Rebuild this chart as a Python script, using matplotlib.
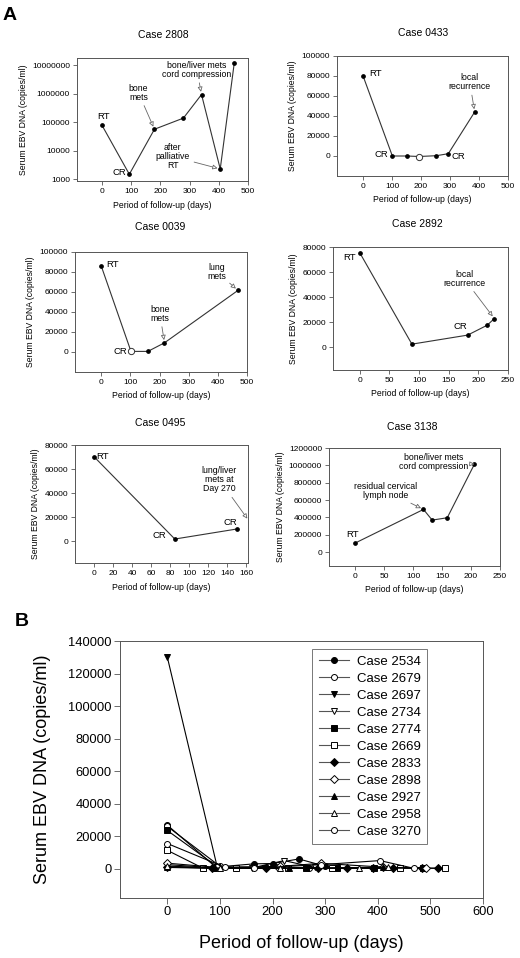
import numpy as np
import matplotlib
matplotlib.use('Agg')
import matplotlib.pyplot as plt
from matplotlib.ticker import NullLocator

plt.rcParams['font.family'] = ['Liberation Sans', 'DejaVu Sans']

# ---- panel A data (days, copies/ml) ----
days_2808 = [0, 94, 180, 279, 341, 405, 453]
dna_2808 = [80000, 1500, 57000, 140000, 940000, 2300, 12000000]

days_0433 = [0, 101, 151, 193, 253, 294, 385]
dna_0433 = [80000, 0, 0, -500, 300, 2300, 44000]

days_0039 = [0, 102, 160, 217, 469]
dna_0039 = [86000, 600, 600, 9200, 61600]

days_2892 = [0, 88, 182, 215, 227]
dna_2892 = [75500, 2600, 9800, 17700, 23000]

days_0495 = [0, 85, 150]
dna_0495 = [70300, 1900, 10200]

days_3138 = [0, 118, 133, 159, 206]
dna_3138 = [104000, 492000, 369000, 396000, 1015000]

# ---- panel B data ----
b_labels = ['Case 2534', 'Case 2679', 'Case 2697', 'Case 2734', 'Case 2774',
            'Case 2669', 'Case 2833', 'Case 2898', 'Case 2927', 'Case 2958',
            'Case 3270']
days_2534 = [0, 92, 165, 200, 250, 300]
dna_2534 = [26800, 1000, 3000, 3200, 6000, 1500]
days_2679 = [0, 100, 130, 210, 270]
dna_2679 = [26000, 1500, 500, 800, 400]
days_2697 = [0, 95, 185]
dna_2697 = [130000, 800, 300]
days_2734 = [0, 90, 160, 222, 280]
dna_2734 = [2500, 600, 400, 5000, 800]
days_2774 = [0, 95, 264, 322, 392, 485]
dna_2774 = [23500, 1200, 300, 300, 400, 700]
days_2669 = [0, 68, 130, 230, 313, 443, 528]
dna_2669 = [11300, 300, 300, 500, 300, 300, 300]
days_2833 = [0, 85, 188, 286, 342, 390, 428, 484, 514]
dna_2833 = [1200, 300, 300, 300, 200, 300, 300, 400, 300]
days_2898 = [0, 95, 215, 292, 410, 492]
dna_2898 = [3400, 800, 1500, 3300, 1000, 300]
days_2927 = [0, 90, 231, 410]
dna_2927 = [800, 200, 300, 900]
days_2958 = [0, 100, 215, 365, 419]
dna_2958 = [1600, 400, 600, 300, 1100]
days_3270 = [0, 110, 164, 292, 404, 468]
dna_3270 = [15500, 800, 400, 2500, 5000, 300]

W, H = 520, 958
fig = plt.figure(figsize=(W / 100, H / 100), dpi=100)
fig.patch.set_facecolor('white')

FRAME = '#555555'
LINE = '#333333'
ARROW = dict(arrowstyle='-|>', color='#666666', lw=0.6, fc='white',
             mutation_scale=7, shrinkA=1, shrinkB=2)


def px_axes(left, top, right, bottom):
    return fig.add_axes([left / W, 1 - bottom / H, (right - left) / W, (bottom - top) / H])


def style(ax, fs=6, tl=3):
    for s in ax.spines.values():
        s.set_color(FRAME)
        s.set_linewidth(0.7)
    ax.tick_params(direction='out', length=tl, width=0.6, color=FRAME,
                   labelsize=fs, pad=2, top=False, right=False)


def small_panel(box, title, tpos, days, dna, xlim, xticks, ylim, yticks,
                logy=False, open_idx=()):
    ax = px_axes(*box)
    ax.plot(days, dna, '-', color=LINE, lw=0.8, zorder=2)
    for i, (d, v) in enumerate(zip(days, dna)):
        if i in open_idx:
            ax.plot(d, v, 'o', ms=4.5, mfc='white', mec=LINE, mew=0.7, zorder=3)
        else:
            ax.plot(d, v, 'o', ms=2.4, color='black', zorder=3)
    if logy:
        ax.set_yscale('log')
        ax.yaxis.set_minor_locator(NullLocator())
    ax.set_xlim(*xlim)
    ax.set_ylim(*ylim)
    ax.set_xticks(xticks)
    ax.set_xticklabels([str(t) for t in xticks])
    ax.set_yticks(yticks)
    ax.set_yticklabels([str(int(t)) for t in yticks])
    style(ax)
    ax.set_xlabel('Period of follow-up (days)', fontsize=6.2, labelpad=4)
    ax.set_ylabel('Serum EBV DNA (copies/ml)', fontsize=6.2, labelpad=3)
    fig.text(tpos[0] / W, 1 - tpos[1] / H, title, fontsize=7.5, ha='center', va='center')
    return ax


AFS = 6.3

# Case 2808
ax = small_panel((77, 58, 248, 181), 'Case 2808', (163, 35), days_2808, dna_2808,
                 (-85, 500), [0, 100, 200, 300, 400, 500], (870, 1.8e7),
                 [1000, 10000, 100000, 1000000, 10000000], logy=True)
ax.text(6, 1.6e5, 'RT', fontsize=AFS + 0.5, ha='center', va='center')
ax.text(59, 1750, 'CR', fontsize=AFS + 0.5, ha='center', va='center')
ax.annotate('bone\nmets', xy=(180, 57000), xytext=(125, 1.1e6), fontsize=AFS,
            ha='center', va='center', linespacing=1.0, arrowprops=ARROW)
ax.annotate('bone/liver mets\ncord compression', xy=(341, 940000), xytext=(325, 7e6),
            fontsize=AFS, ha='center', va='center', linespacing=1.0, arrowprops=ARROW)
ax.annotate('after\npalliative\nRT', xy=(405, 2300), xytext=(243, 6300), fontsize=AFS,
            ha='center', va='center', linespacing=1.0, arrowprops=ARROW)

# Case 0433
ax = small_panel((337, 56, 508, 176), 'Case 0433', (423, 33), days_0433, dna_0433,
                 (-90, 500), [0, 100, 200, 300, 400, 500], (-20000, 100000),
                 [0, 20000, 40000, 60000, 80000, 100000], open_idx=(3,))
ax.text(43, 83000, 'RT', fontsize=AFS + 0.5, ha='center', va='center')
ax.text(63, 1700, 'CR', fontsize=AFS + 0.5, ha='center', va='center')
ax.text(330, -500, 'CR', fontsize=AFS + 0.5, ha='center', va='center')
ax.annotate('local\nrecurrence', xy=(385, 44000), xytext=(368, 74000), fontsize=AFS,
            ha='center', va='center', linespacing=1.0, arrowprops=ARROW)

# Case 0039
ax = small_panel((75, 252, 247, 372), 'Case 0039', (160, 227), days_0039, dna_0039,
                 (-90, 500), [0, 100, 200, 300, 400, 500], (-20000, 100000),
                 [0, 20000, 40000, 60000, 80000, 100000], open_idx=(1,))
ax.text(38, 87600, 'RT', fontsize=AFS + 0.5, ha='center', va='center')
ax.text(66, 600, 'CR', fontsize=AFS + 0.5, ha='center', va='center')
ax.annotate('bone\nmets', xy=(217, 9200), xytext=(201, 38400), fontsize=AFS,
            ha='center', va='center', linespacing=1.0, arrowprops=ARROW)
ax.annotate('lung\nmets', xy=(469, 61600), xytext=(395, 80400), fontsize=AFS,
            ha='center', va='center', linespacing=1.0, arrowprops=ARROW)

# Case 2892
ax = small_panel((333, 247, 508, 370), 'Case 2892', (417, 224), days_2892, dna_2892,
                 (-45, 250), [0, 50, 100, 150, 200, 250], (-18000, 80000),
                 [0, 20000, 40000, 60000, 80000])
ax.text(-17, 71400, 'RT', fontsize=AFS + 0.5, ha='center', va='center')
ax.text(170, 16600, 'CR', fontsize=AFS + 0.5, ha='center', va='center')
ax.annotate('local\nrecurrence', xy=(227, 23000), xytext=(176, 54800), fontsize=AFS,
            ha='center', va='center', linespacing=1.0, arrowprops=ARROW)

# Case 0495
ax = small_panel((75, 445, 248, 563), 'Case 0495', (160, 423), days_0495, dna_0495,
                 (-20, 162), [0, 20, 40, 60, 80, 100, 120, 140, 160], (-18000, 80000),
                 [0, 20000, 40000, 60000, 80000])
ax.text(9, 70800, 'RT', fontsize=AFS + 0.5, ha='center', va='center')
ax.text(69, 4700, 'CR', fontsize=AFS + 0.5, ha='center', va='center')
ax.text(143, 16000, 'CR', fontsize=AFS + 0.5, ha='center', va='center')
ax.annotate('lung/liver\nmets at\nDay 270', xy=(163, 17000), xytext=(132, 51000),
            fontsize=AFS, ha='center', va='center', linespacing=1.0,
            arrowprops=ARROW, annotation_clip=False)

# Case 3138
ax = small_panel((329, 448, 500, 566), 'Case 3138', (412, 427), days_3138, dna_3138,
                 (-45, 250), [0, 50, 100, 150, 200, 250], (-160000, 1200000),
                 [0, 200000, 400000, 600000, 800000, 1000000, 1200000])
ax.text(-4, 200000, 'RT', fontsize=AFS + 0.5, ha='center', va='center')
ax.annotate('residual cervical\nlymph node', xy=(118, 492000), xytext=(53, 707000),
            fontsize=AFS, ha='center', va='center', linespacing=1.0, arrowprops=ARROW)
ax.annotate('bone/liver mets\ncord compression', xy=(206, 1015000), xytext=(136, 1034000),
            fontsize=AFS, ha='center', va='center', linespacing=1.0, arrowprops=ARROW)

# panel letters
fig.text(10 / W, 1 - 16 / H, 'A', fontsize=14, fontweight='bold', ha='center', va='center')
fig.text(22 / W, 1 - 622 / H, 'B', fontsize=14, fontweight='bold', ha='center', va='center')

# ---- panel B ----
axb = px_axes(120, 641, 483, 898)
b_days = [days_2534, days_2679, days_2697, days_2734, days_2774, days_2669,
          days_2833, days_2898, days_2927, days_2958, days_3270]
b_dna = [dna_2534, dna_2679, dna_2697, dna_2734, dna_2774, dna_2669,
         dna_2833, dna_2898, dna_2927, dna_2958, dna_3270]
b_markers = ['o', 'o', 'v', 'v', 's', 's', 'D', 'D', '^', '^', 'o']
b_filled = [True, False, True, False, True, False, True, False, True, False, False]

for lab, d, v, m, f in zip(b_labels, b_days, b_dna, b_markers, b_filled):
    ms = 3.6 if m == 'D' else 4.3
    axb.plot(d, v, '-', marker=m, ms=ms, color='black', lw=0.8,
             mfc='black' if f else 'white', mec='black', mew=0.7, label=lab)

axb.set_xlim(-90, 600)
axb.set_ylim(-18000, 140000)
axb.set_xticks([0, 100, 200, 300, 400, 500, 600])
axb.set_xticklabels(['0', '100', '200', '300', '400', '500', '600'])
yt = [0, 20000, 40000, 60000, 80000, 100000, 120000, 140000]
axb.set_yticks(yt)
axb.set_yticklabels([str(t) for t in yt])
style(axb, fs=9.3, tl=4)
axb.set_xlabel('Period of follow-up (days)', fontsize=13, labelpad=12)
axb.set_ylabel('Serum EBV DNA (copies/ml)', fontsize=13, labelpad=12)

leg = axb.legend(loc='upper left', bbox_to_anchor=(0.529, 0.969), fontsize=9.5,
                 frameon=True, fancybox=False, edgecolor=FRAME, handlelength=2.3,
                 labelspacing=0.36, borderpad=0.5, handletextpad=0.6,
                 borderaxespad=0)
leg.get_frame().set_linewidth(0.7)
for h in leg.get_lines():
    h.set_color('#555555')

fig.savefig('out.png', dpi=100)
